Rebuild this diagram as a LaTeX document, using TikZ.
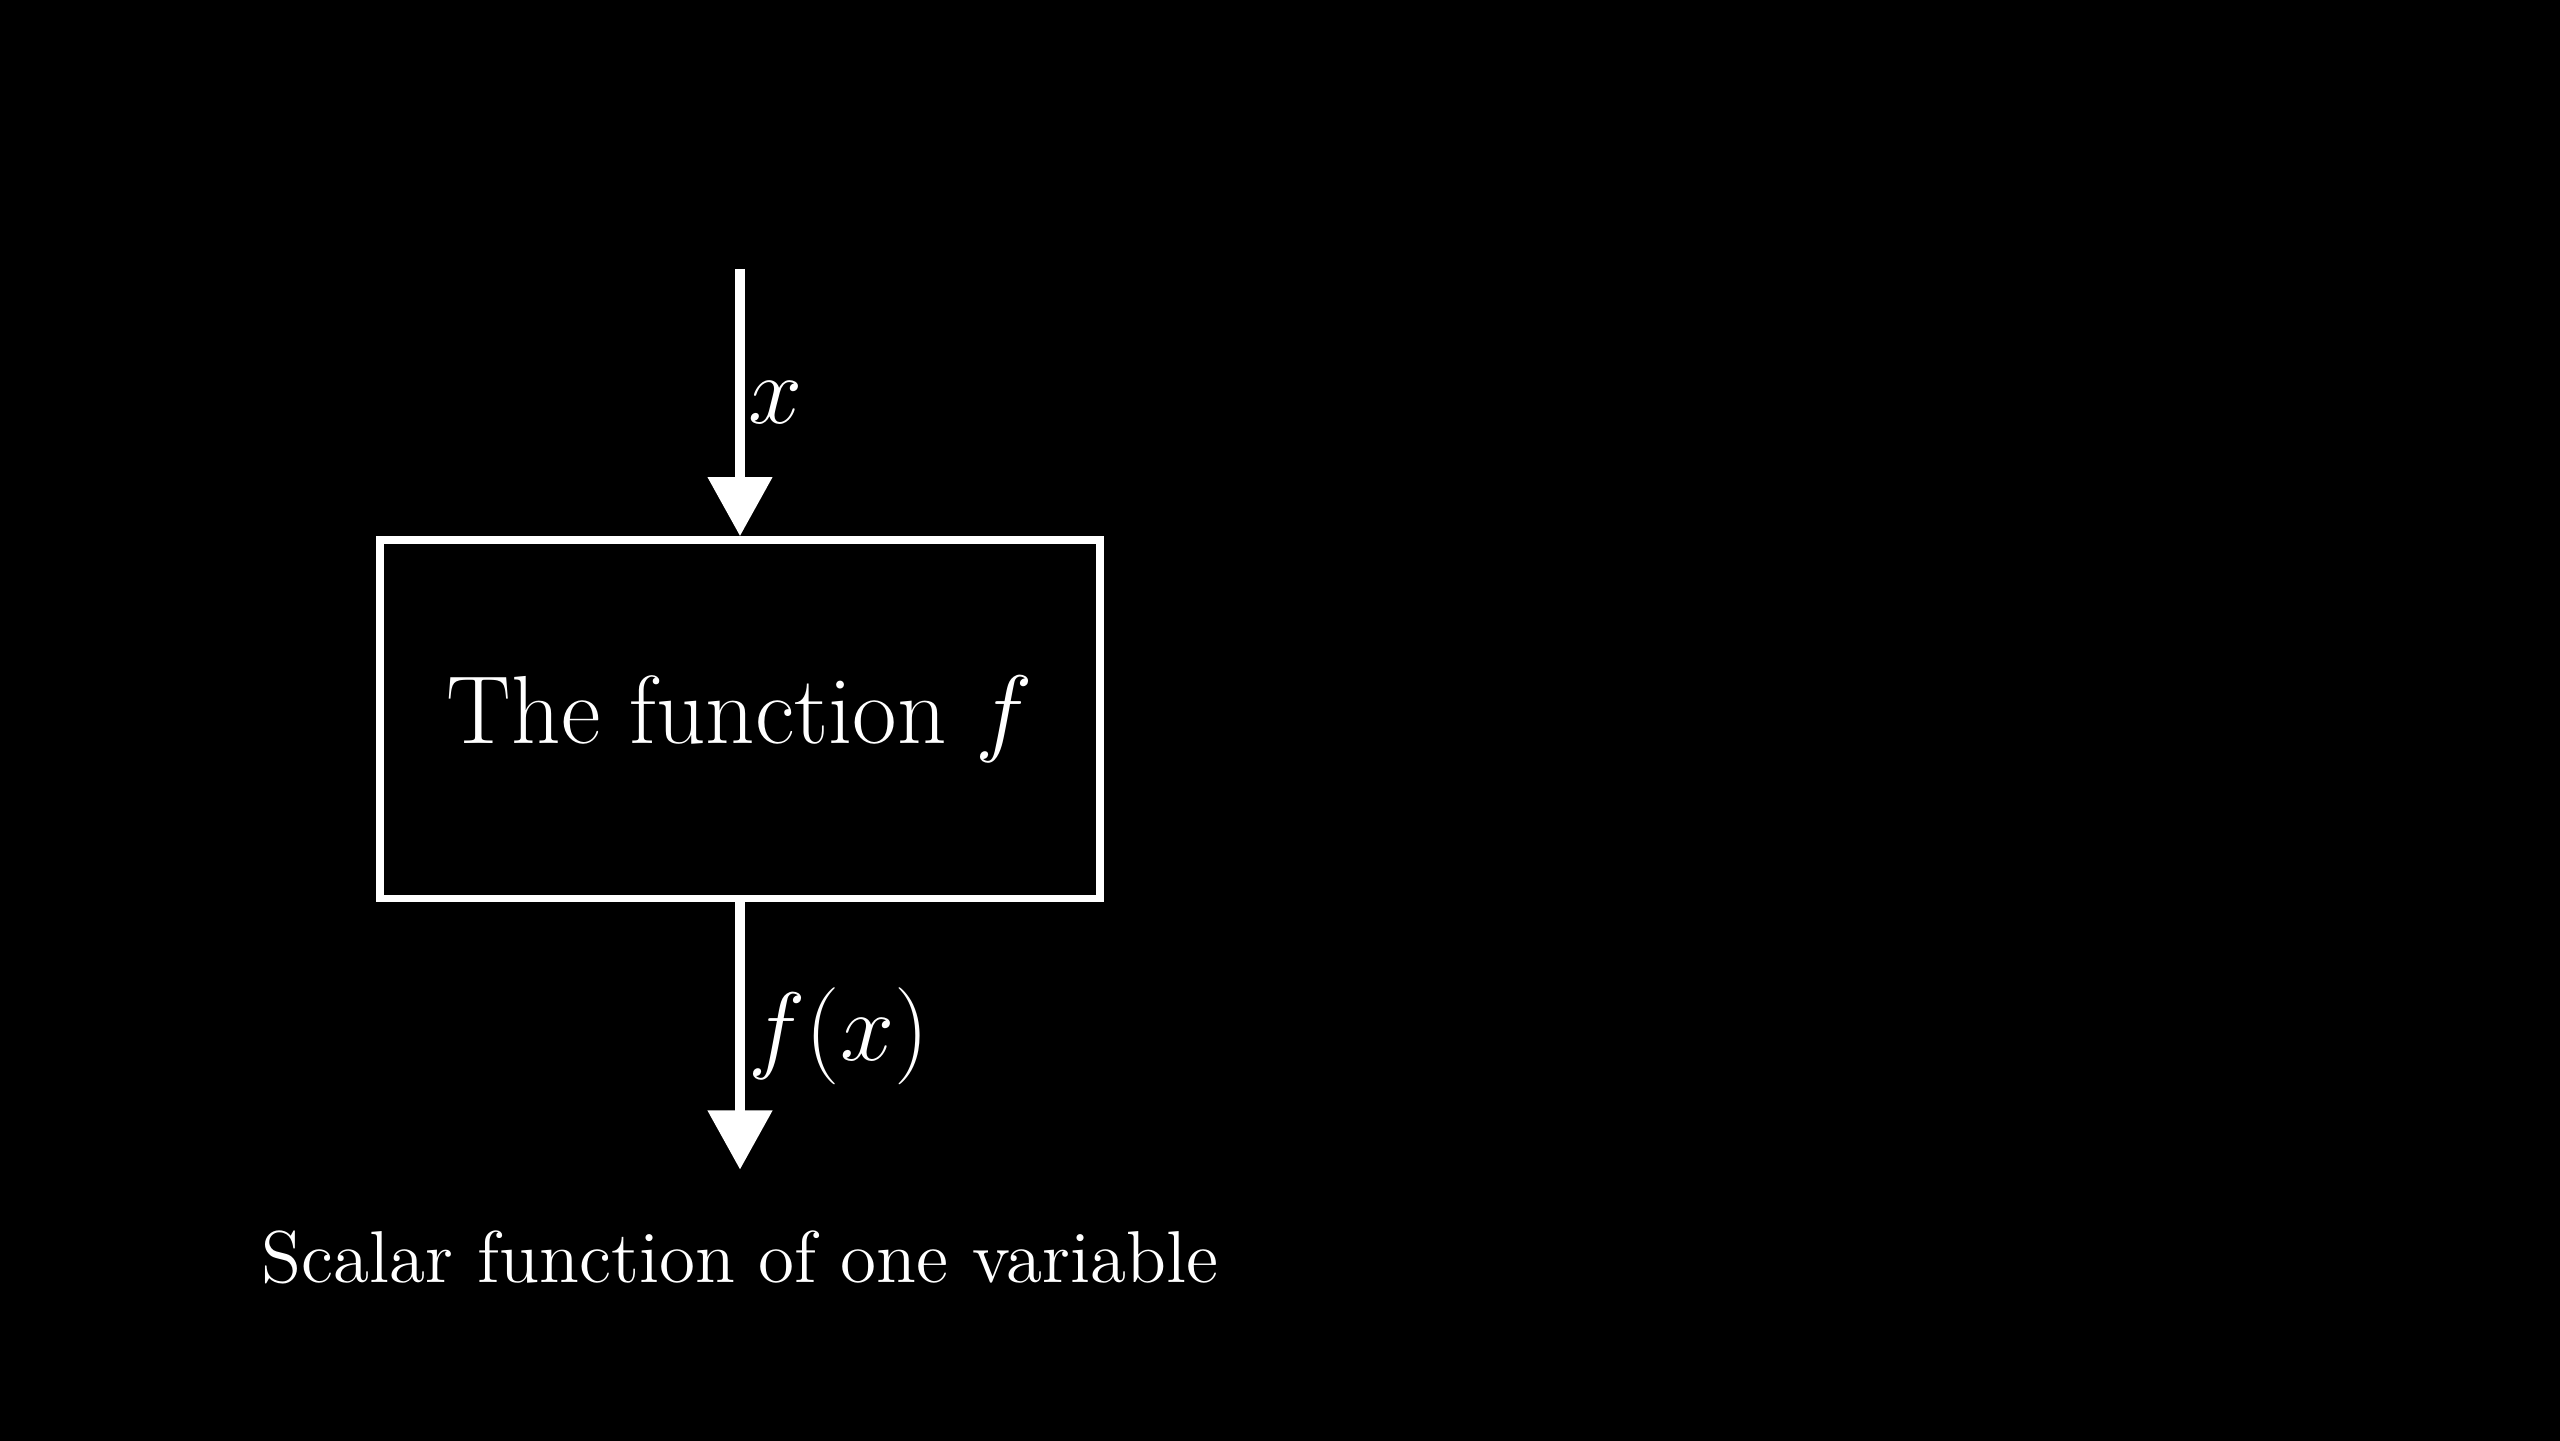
\documentclass[tikz,border=0pt]{standalone}
\usetikzlibrary{arrows.meta, positioning}

\begin{document}
\begin{tikzpicture}[
        blockbox/.style={draw=white, text=white, line width=1.35pt, minimum width=4.50cm, minimum height=2.24cm},
        flow/.style={white, line width=1.8pt, -{Triangle[length=3.7mm, width=3.9mm]}},
        flowlabel/.style={text=white, inner sep=0.6pt, font=\fontsize{16.5}{19}\selectfont}
    ]

        \useasboundingbox (0, 0) rectangle (16, 9);
        \fill[black] (-0.1, -0.1) rectangle (16.1, 9.1);

        \node[blockbox, font=\fontsize{17.2}{20}\selectfont] (fbox) at (4.625, 4.505) {The function $f$};

        \coordinate (xin) at (4.625, 7.32);
        \coordinate (fout) at (4.625, 1.69);

        \draw[flow] (xin) -- node[right, flowlabel] (xlab) {$x$} (fbox.north);
        \draw[flow] (fbox.south) -- node[right, flowlabel] (fxlab) {$f(x)$} (fout);

        \node[below=0.26cm of fout, text=white, font=\fontsize{13.06}{15}\selectfont] (caption) {Scalar function of one variable};

    \end{tikzpicture}
\end{document}
